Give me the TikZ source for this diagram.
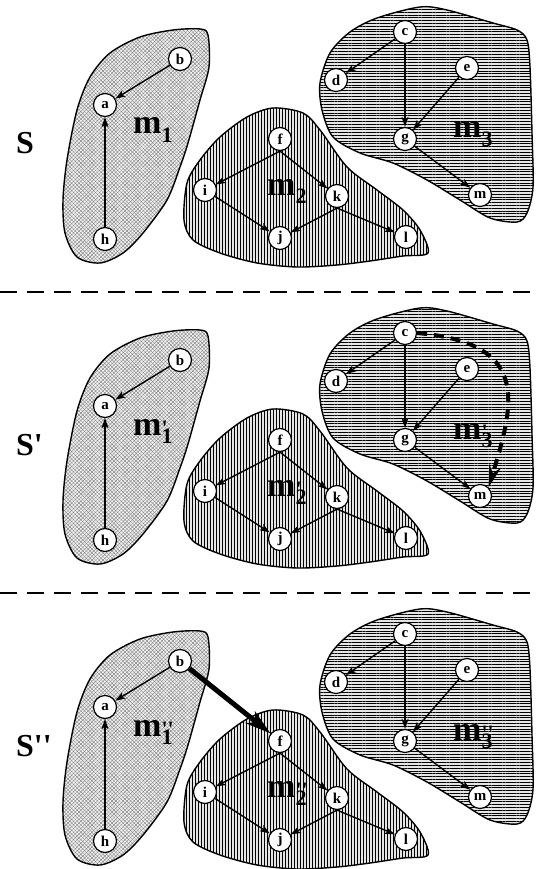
\documentclass[tikz,border=0pt]{standalone}
\usepackage{fontspec}
\setmainfont{Liberation Serif}
\usetikzlibrary{arrows.meta,patterns.meta}

\tikzset{
  vtx/.style={circle,draw=black,line width=1.2pt,fill=white,text=black,inner sep=0pt,minimum size=23pt,
    font=\fontsize{15}{15}\selectfont\bfseries},
  conn/.style={color=black,draw=black,line width=1.4pt,-{Stealth[length=10pt,width=7pt,inset=2.5pt,color=black,fill=black]}},
  blobA/.style={draw=black,line width=1.4pt,preaction={fill=black!6},
    preaction={pattern={Lines[angle=45,distance=2.6pt,line width=0.3pt]},pattern color=black!55},
    pattern={Lines[angle=-45,distance=2.6pt,line width=0.3pt]},pattern color=black!55},
  blobB/.style={draw=black,line width=1.4pt,preaction={fill=black!10},
    pattern={Lines[angle=90,distance=3pt,line width=1.0pt]},pattern color=black},
  blobC/.style={draw=black,line width=1.4pt,preaction={fill=black!10},
    pattern={Lines[angle=0,distance=2.8pt,line width=0.9pt]},pattern color=black},
  slab/.style={font=\fontsize{32}{32}\selectfont\bfseries,text=black,anchor=base west,inner sep=0pt},
  mlab/.style={font=\fontsize{34}{34}\selectfont\bfseries,text=black,anchor=base west,inner sep=0pt},
  sepline/.style={color=black,line width=2.5pt,dash pattern=on 17pt off 10pt},
  dasharrow/.style={color=black,line width=4pt,dash pattern=on 10pt off 7pt,
    -{Stealth[length=22pt,width=12pt,color=black,fill=black]}},
  thickarrow/.style={color=black,line width=5pt,-{Stealth[length=26pt,width=15pt,color=black,fill=black]}},
}

\newcommand{\msub}[2]{m\makebox[0pt][l]{\raisebox{0pt}{\fontsize{22}{22}\selectfont #2}}\raisebox{-0.26em}{\fontsize{22}{22}\selectfont #1}}

\newcommand{\drawpanel}[5]{%
  \begin{scope}
  \path[blobA] plot[smooth cycle,tension=0.5] coordinates {(200,29)(208,35)(209,67)(200,100)(188,143)(180,167)(167,200)(143,233)(123,253)(100,263)(77,257)(65,233)(63,200)(67,160)(77,110)(90,77)(110,53)(140,37)(173,30)};
  \end{scope}
  \begin{scope}
  \path[blobB] plot[smooth cycle,tension=0.5] coordinates {(273,108)(303,113)(320,130)(347,167)(377,190)(403,210)(420,230)(428,253)(403,256)(370,261)(337,265)(297,267)(257,263)(220,253)(193,240)(184,220)(187,183)(200,160)(220,137)(247,117)};
  \end{scope}
  \begin{scope}
  \path[blobC] plot[smooth cycle,tension=0.5] coordinates {(350,32)(377,18)(420,7)(447,10)(493,23)(517,30)(527,40)(530,67)(532,133)(533,187)(527,213)(517,222)(490,218)(460,200)(427,180)(393,163)(360,153)(333,137)(322,110)(320,83)(330,53)};
  \end{scope}
  \color{black}%
  \node[slab] (S#1) at (16,154) {#2};
  \node[mlab] (m1#1) at (133,134) {\msub{1}{#3}};
  \node[mlab] (m2#1) at (267,195) {\msub{2}{#4}};
  \node[mlab] (m3#1) at (453,138) {\msub{3}{#5}};
  \node[vtx] (a#1) at (105,105) {a};
  \node[vtx] (b#1) at (180,59) {b};
  \node[vtx] (h#1) at (105,239) {h};
  \node[vtx] (c#1) at (405,32) {c};
  \node[vtx] (d#1) at (336,80) {d};
  \node[vtx] (e#1) at (467,68) {e};
  \node[vtx] (g#1) at (405,139) {g};
  \node[vtx] (m#1) at (480,195) {m};
  \node[vtx] (f#1) at (280,139) {f};
  \node[vtx] (i#1) at (205,190) {i};
  \node[vtx] (k#1) at (337,196) {k};
  \node[vtx] (j#1) at (280,238) {j};
  \node[vtx] (l#1) at (406,237) {l};
  \draw[conn] (b#1) -- (a#1);
  \draw[conn] (h#1) -- (a#1);
  \draw[conn] (c#1) -- (d#1);
  \draw[conn] (c#1) -- (g#1);
  \draw[conn] (e#1) -- (g#1);
  \draw[conn] (g#1) -- (m#1);
  \draw[conn] (f#1.south) -- (i#1);
  \draw[conn] (f#1.south) -- (k#1);
  \draw[conn] (i#1) -- (j#1);
  \draw[conn] (k#1.south) -- (j#1);
  \draw[conn] (k#1.south) -- (l#1);
}

\begin{document}
\begin{tikzpicture}[x=1pt,y=-1pt]
\useasboundingbox (0,0) rectangle (539,869);
\fill[white] (0,0) rectangle (539,869);

\begin{scope}
  \drawpanel{A}{S}{}{}{}
\end{scope}

\draw[sepline] (0,292) -- (539,292);

\begin{scope}[shift={(0,301)}]
  \drawpanel{B}{S\textquotesingle}{\textquotesingle}{\textquotesingle}{\textquotesingle}
  \draw[dasharrow] (cB.east) .. controls (530,42) and (515,100) .. (mB.north east);
\end{scope}

\draw[sepline] (0,593) -- (539,593);

\begin{scope}[shift={(0,602)}]
  \drawpanel{C}{S\textquotesingle\textquotesingle}{\textquotesingle\textquotesingle}{\textquotesingle\textquotesingle}{\textquotesingle\textquotesingle}
  \draw[thickarrow] (bC) -- (fC);
\end{scope}
\end{tikzpicture}
\end{document}
